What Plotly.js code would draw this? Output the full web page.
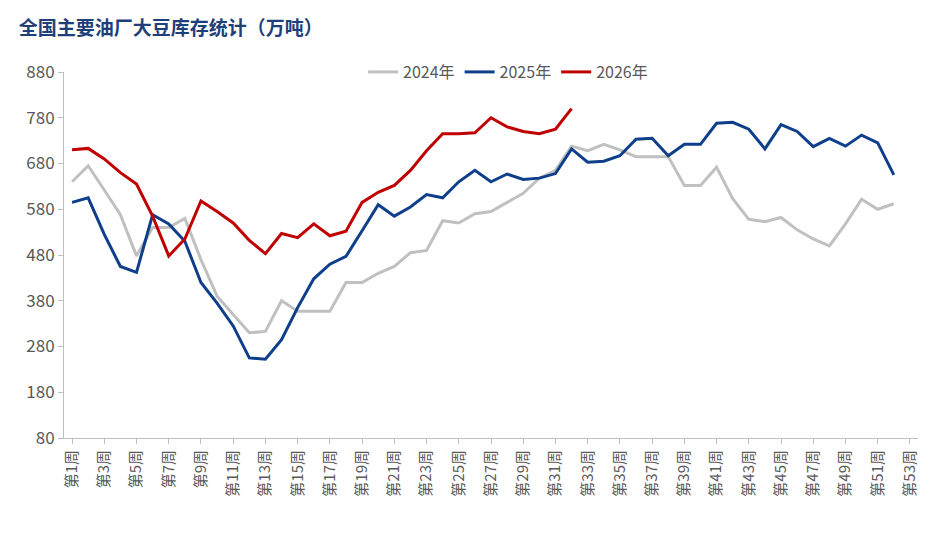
<!DOCTYPE html>
<html>
<head>
<meta charset="utf-8">
<script src="https://cdn.plot.ly/plotly-3.0.1.min.js"></script>
<style>body{margin:0;background:#fff}</style>
</head>
<body>
<div id="chart" style="width:938px;height:540px"></div>
<script>
var weeks = [];
for (var i = 1; i <= 53; i++) weeks.push('第' + i + '周');

var y2024 = [640,675,622,568,478,540,540,560,470,390,350,310,313,380,357,357,357,420,420,440,455,485,490,555,550,570,575,595,615,648,665,718,708,722,710,695,695,695,632,632,672,603,558,553,562,535,515,500,548,602,580,592];
var y2025 = [595,605,525,455,442,568,548,510,420,375,325,255,252,295,365,428,460,477,533,590,565,585,612,605,640,665,640,657,645,648,658,712,683,685,697,733,735,697,722,722,768,770,755,712,765,750,717,735,718,742,725,655];
var y2026 = [710,713,690,660,635,565,478,515,598,575,550,512,483,527,518,548,522,532,595,617,632,665,708,745,745,747,780,760,750,745,755,800];

var tickLabels = weeks.filter(function(w, i) { return i % 2 === 0; });

function line(name, ys, color) {
    return {x: weeks.slice(0, ys.length), y: ys, name: name, mode: 'lines', type: 'scatter',
            line: {color: color, width: 3}};
}

var data = [
    line('2024年', y2024, '#c0c0c0'),
    line('2025年', y2025, '#0f3f8a'),
    line('2026年', y2026, '#c00000')
];

var layout = {
    width: 938, height: 540,
    margin: {l: 64, r: 20, t: 72, b: 102},
    font: {family: '"Noto Sans CJK SC", "Noto Sans", sans-serif', size: 15, color: '#595959'},
    title: {text: '<b>全国主要油厂大豆库存统计（万吨）</b>', x: 0.02, xanchor: 'left', y: 0.96,
            font: {size: 19, color: '#1f3f7a'}},
    showlegend: true,
    legend: {orientation: 'h', x: 0.52, xanchor: 'center', y: 1.0, yanchor: 'middle',
             bgcolor: 'rgba(255,255,255,0)', font: {size: 16, color: '#595959'}},
    xaxis: {type: 'category', categoryorder: 'array', categoryarray: weeks,
            tickvals: tickLabels, ticktext: tickLabels, tickangle: -90,
            range: [-0.5, 52.5], showgrid: false, showline: true, linecolor: '#bfbfbf',
            ticks: 'outside', ticklen: 5, tickcolor: '#bfbfbf', tickfont: {size: 15}},
    yaxis: {range: [80, 880], tickvals: [80,180,280,380,480,580,680,780,880],
            showgrid: false, showline: true, linecolor: '#bfbfbf', zeroline: false,
            ticks: 'outside', ticklen: 5, tickcolor: '#bfbfbf', tickfont: {size: 17}},
    plot_bgcolor: '#fff', paper_bgcolor: '#fff'
};

Plotly.newPlot('chart', data, layout, {displayModeBar: false});
</script>
</body>
</html>
